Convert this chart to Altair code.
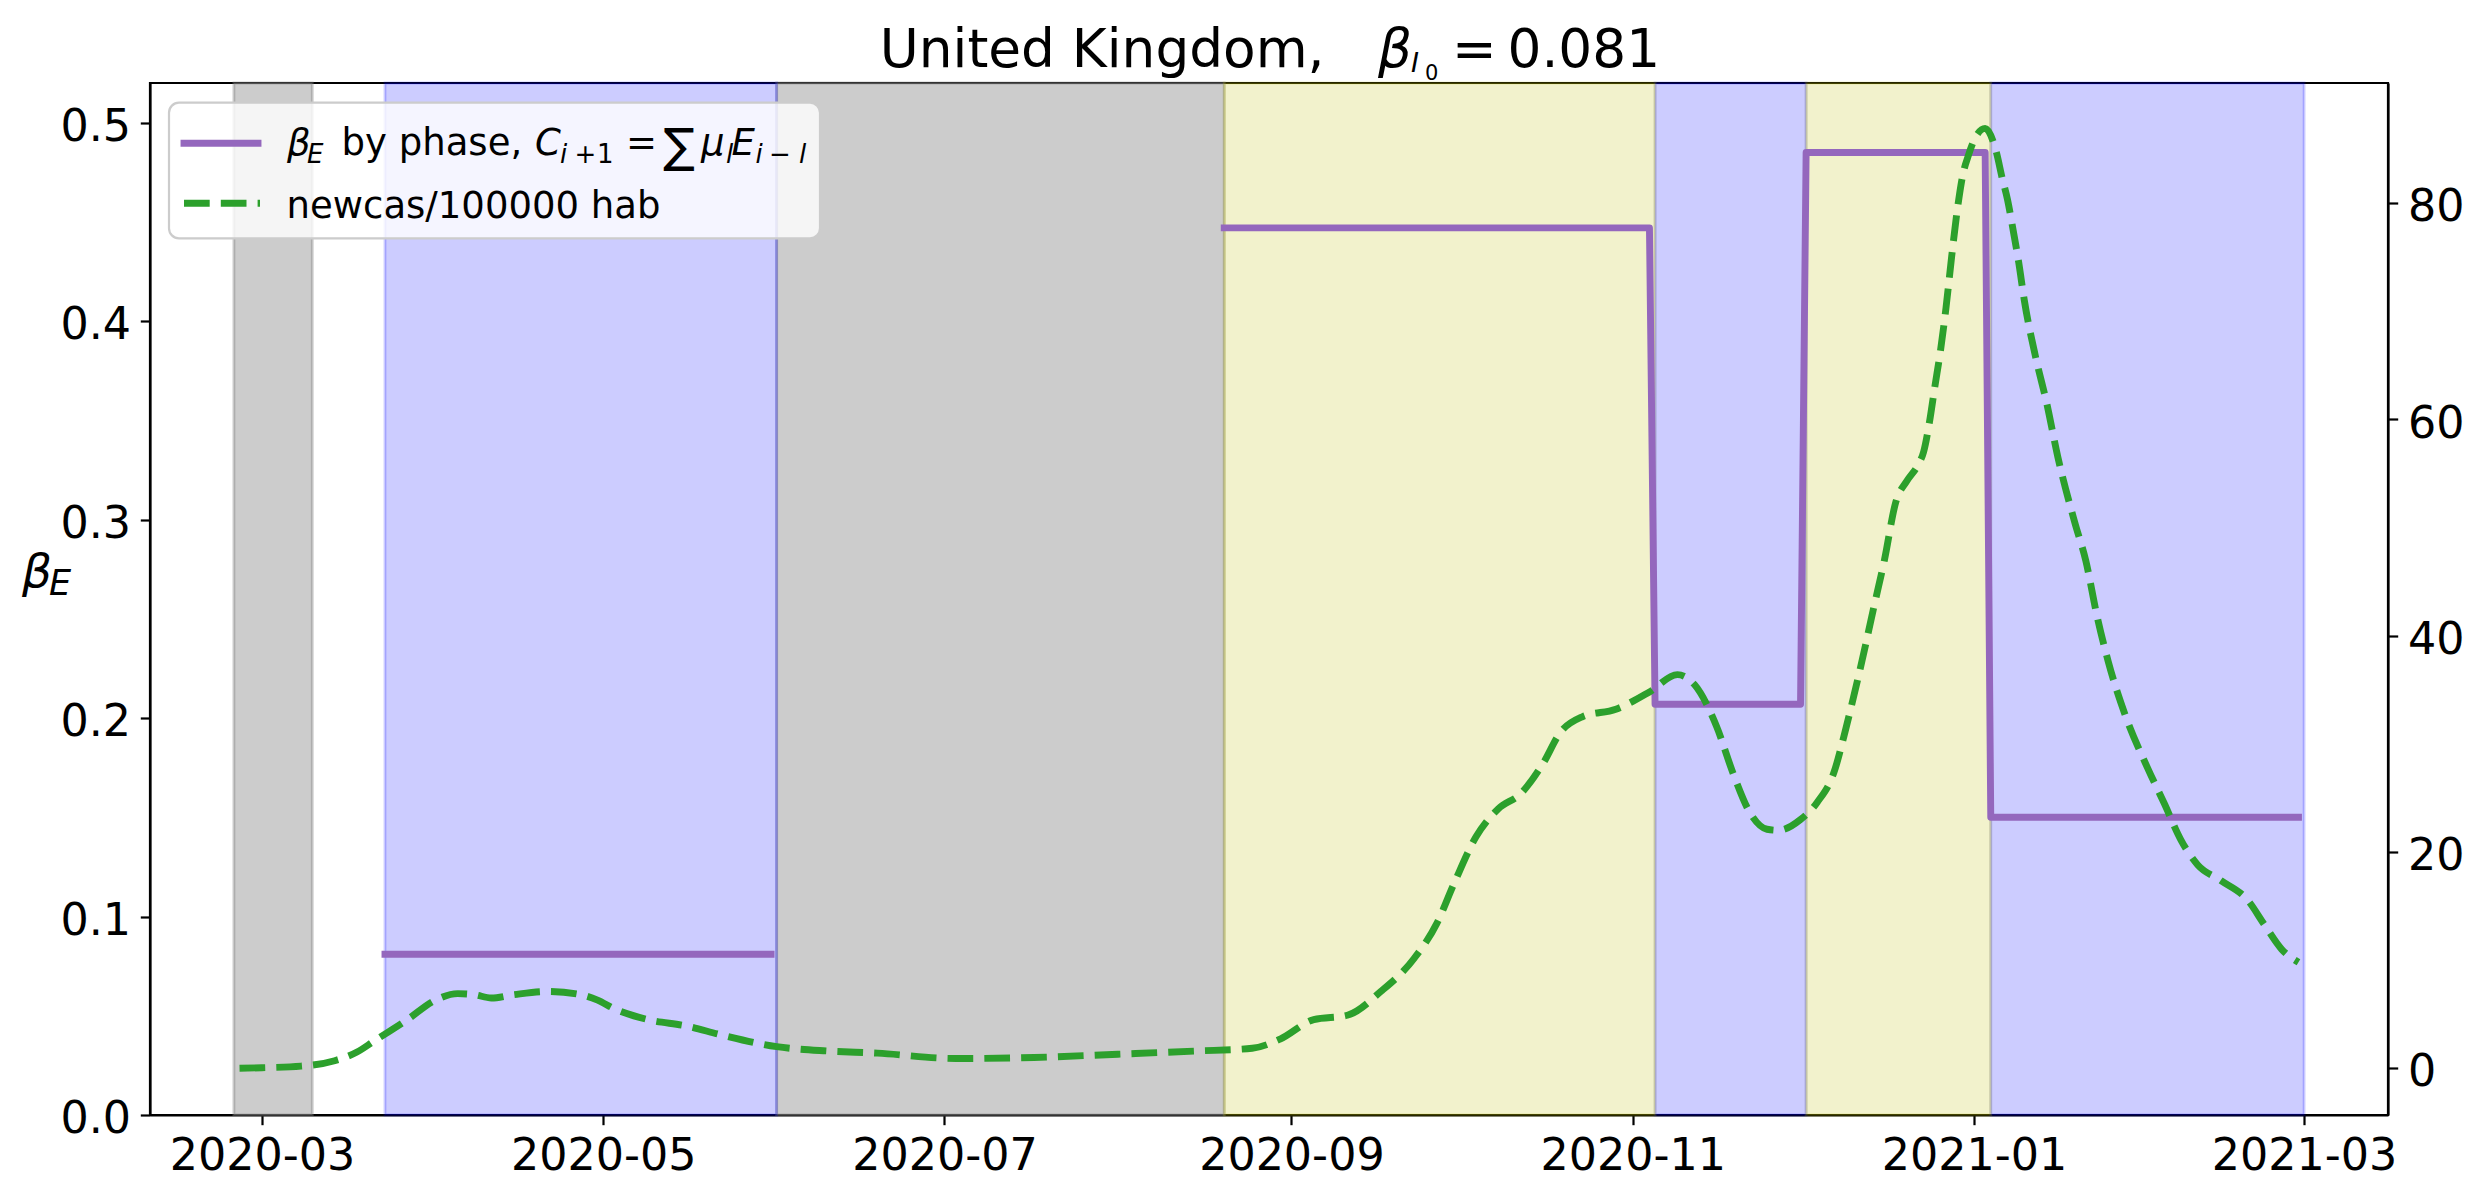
import altair as alt
import pandas as pd

# ---------------- data ----------------
span_start = ["2020-02-25", "2020-03-23", "2020-06-01", "2020-08-20", "2020-11-05", "2020-12-02", "2021-01-04"]
span_end = ["2020-03-10", "2020-06-01", "2020-08-20", "2020-11-05", "2020-12-02", "2021-01-04", "2021-03-01"]
span_kind = ["gray", "blue", "gray", "yellow", "blue", "yellow", "blue"]

phase_start = ["2020-03-23", "2020-08-20", "2020-11-05", "2020-12-02", "2021-01-04"]
phase_end = ["2020-05-31", "2020-11-04", "2020-12-01", "2021-01-03", "2021-02-28"]
phase_beta = [0.081, 0.447, 0.207, 0.485, 0.150]
phase_group = [1, 2, 2, 2, 2]

case_dates = [
    "2020-02-26", "2020-03-01", "2020-03-08", "2020-03-14", "2020-03-18", "2020-03-21",
    "2020-03-27", "2020-04-01", "2020-04-05", "2020-04-08", "2020-04-11", "2020-04-15",
    "2020-04-21", "2020-04-27", "2020-04-30", "2020-05-03", "2020-05-09", "2020-05-16",
    "2020-05-22", "2020-06-01", "2020-06-10", "2020-06-19", "2020-07-03", "2020-07-17",
    "2020-08-01", "2020-08-15", "2020-08-25", "2020-08-30", "2020-09-05", "2020-09-11",
    "2020-09-17", "2020-09-23", "2020-09-27", "2020-09-30", "2020-10-04", "2020-10-08",
    "2020-10-12", "2020-10-16", "2020-10-19", "2020-10-23", "2020-10-29", "2020-11-04",
    "2020-11-09", "2020-11-12", "2020-11-16", "2020-11-19", "2020-11-22", "2020-11-25",
    "2020-11-27", "2020-12-01", "2020-12-04", "2020-12-07", "2020-12-09", "2020-12-10",
    "2020-12-12", "2020-12-14", "2020-12-16", "2020-12-18", "2020-12-20", "2020-12-22",
    "2020-12-23", "2020-12-24", "2020-12-25", "2020-12-26", "2020-12-27", "2020-12-28",
    "2020-12-29", "2020-12-30", "2020-12-31", "2021-01-01", "2021-01-03", "2021-01-05",
    "2021-01-06", "2021-01-07", "2021-01-08", "2021-01-09", "2021-01-10", "2021-01-12",
    "2021-01-14", "2021-01-16", "2021-01-19", "2021-01-21", "2021-01-23", "2021-01-25",
    "2021-01-28", "2021-02-01", "2021-02-04", "2021-02-07", "2021-02-10", "2021-02-14",
    "2021-02-19", "2021-02-22", "2021-02-25", "2021-02-28",
]
case_values = [
    0.0, 0.05, 0.2, 0.7, 1.5, 2.5,
    4.5, 6.3, 6.9, 6.8, 6.5, 6.8,
    7.1, 6.8, 6.3, 5.5, 4.5, 3.9,
    3.1, 2.0, 1.6, 1.4, 0.9, 1.0,
    1.3, 1.6, 1.85, 2.7, 4.5, 4.9,
    7.1, 10.2, 13.4, 17.0, 21.4, 24.0,
    25.4, 28.2, 31.0, 32.5, 33.2, 34.8,
    36.4, 35.5, 31.6, 27.2, 23.6, 22.1,
    22.0, 23.0, 24.6, 27.4, 31.2, 33.3,
    37.7, 42.4, 47.0, 52.3, 54.3, 55.8,
    57.0, 59.6, 63.0, 66.3, 70.3, 75.0,
    79.3, 82.6, 84.4, 85.8, 86.9, 84.7,
    82.4, 80.3, 77.5, 74.5, 71.0, 65.8,
    61.5, 56.5, 50.5, 46.9, 41.8, 37.6,
    32.7, 27.8, 24.5, 21.1, 18.8, 17.4,
    15.5, 13.2, 11.0, 9.8,
]

x_ticks = ["2020-03", "2020-05", "2020-07", "2020-09", "2020-11", "2021-01", "2021-03"]
beta_ticks = [0.0, 0.1, 0.2, 0.3, 0.4, 0.5]
case_ticks = [0, 20, 40, 60, 80]

# ---------------- tables ----------------
spans = pd.DataFrame({"start": span_start, "end": span_end, "kind": span_kind})
rows = []
for s, e, b, g in zip(phase_start, phase_end, phase_beta, phase_group):
    rows.append({"date": s, "beta": b, "seg": g})
    rows.append({"date": e, "beta": b, "seg": g})
phases = pd.DataFrame(rows)
cases = pd.DataFrame({"date": case_dates, "cases": case_values})
one = pd.DataFrame({"k": [0]})

W, H = 2238, 1032
FONT = "DejaVu Sans"
TICK_FS = 44.4


def dt(s):
    parts = s.split("-")
    d = int(parts[2]) if len(parts) == 3 else 1
    return alt.DateTime(year=int(parts[0]), month=int(parts[1]), date=d, utc=True)


def xfield(name):
    return alt.X(
        f"{name}:T",
        scale=alt.Scale(type="utc", domain=[dt("2020-02-10"), dt("2021-03-16")]),
        axis=alt.Axis(values=[dt(t) for t in x_ticks], format="%Y-%m", title=None,
                      labelPadding=9.5, labelLimit=0),
    )


span_styles = {
    "gray": ("#808080", 0.4),
    "blue": ("#0000ff", 0.2),
    "yellow": ("#bfbf00", 0.2),
}
span_layers = []
for kind, (col, a) in span_styles.items():
    span_layers.append(
        alt.Chart(spans).transform_filter(alt.datum.kind == kind).mark_rect(
            fill=col, fillOpacity=a, stroke=col, strokeOpacity=a, strokeWidth=2.8
        ).encode(
            x=xfield("start"),
            x2="end:T",
            y=alt.value(0),
            y2=alt.value(H),
        )
    )

beta_layer = alt.Chart(phases).mark_line(
    color="#9467bd", strokeWidth=6.9, strokeCap="square", strokeJoin="round"
).encode(
    x=xfield("date"),
    y=alt.Y("beta:Q", scale=alt.Scale(domain=[0, 0.52], nice=False, zero=False),
            axis=alt.Axis(orient="left", values=beta_ticks, format=".1f", title=None,
                          labelOffset=4.7)),
    detail="seg:N",
    order="date:T",
)

case_layer = alt.Chart(cases).mark_line(
    color="#2ca02c", strokeWidth=6.9, strokeDash=[25.7, 11.1], strokeCap="butt",
    interpolate="monotone",
).encode(
    x=xfield("date"),
    y=alt.Y("cases:Q", scale=alt.Scale(domain=[-4.32, 91.1], nice=False, zero=False),
            axis=alt.Axis(orient="right", values=case_ticks, format="d", title=None,
                          labelOffset=4.7)),
)


def txt(s, x, y, size, italic=False):
    return alt.Chart(one).mark_text(
        text=s, align="left", baseline="alphabetic", font=FONT, fontSize=size,
        fontStyle="italic" if italic else "normal", color="black",
    ).encode(x=alt.value(x), y=alt.value(y))


LF = 37
LS = 26
legend_box = alt.Chart(one).mark_rect(
    fill="white", fillOpacity=0.8, stroke="#cccccc", strokeWidth=2.2, cornerRadius=10
).encode(x=alt.value(19), x2=alt.value(670), y=alt.value(19.7), y2=alt.value(155.3))
legend_l1 = alt.Chart(one).mark_rule(color="#9467bd", strokeWidth=6.9, strokeCap="square").encode(
    x=alt.value(34), x2=alt.value(108), y=alt.value(60.3))
legend_l2 = alt.Chart(one).mark_rule(color="#2ca02c", strokeWidth=6.9, strokeDash=[25.7, 11.1],
                                     strokeCap="butt").encode(
    x=alt.value(34), x2=alt.value(110), y=alt.value(120.3))

texts = [
    # title
    txt("United Kingdom,", 729.8, -16.3, 53.3),
    txt("β", 1228, -16.3, 53.3, True),
    txt("I", 1261, -11, 27, True),
    txt("0", 1275, -3, 21),
    txt("=", 1302, -16.3, 53.3),
    txt("0.081", 1357.5, -16.3, 53.3),
    # y label
    txt("β", -128, 504, 47, True),
    txt("E", -101, 512, 35, True),
    # legend row 1
    txt("β", 137, 72, LF, True),
    txt("E", 157, 79.7, LS, True),
    txt("by phase,", 191.6, 72, LF),
    txt("C", 385, 72, LF, True),
    txt("i", 410, 79.7, LS, True),
    txt("+", 424.5, 79.7, LS),
    txt("1", 447, 79.7, LS),
    txt("=", 476, 72, LF),
    txt("∑", 513, 79, 47),
    txt("μ", 551, 72, LF, True),
    txt("l", 576, 79.7, LS, True),
    txt("E", 581.5, 72, LF, True),
    txt("i", 605.5, 79.7, LS, True),
    txt("−", 619, 79.7, LS),
    txt("l", 649, 79.7, LS, True),
    # legend row 2
    txt("newcas/100000 hab", 136.6, 134.7, LF),
]

chart = alt.layer(
    *span_layers, beta_layer, case_layer, legend_box, legend_l1, legend_l2, *texts
).resolve_scale(y="independent").properties(
    width=W, height=H,
    padding={"left": 142, "top": 75, "right": 96, "bottom": 76},
    autosize=alt.AutoSizeParams(type="none"),
    background="white",
).configure_view(
    stroke="black", strokeWidth=2.2
).configure_axis(
    labelFont=FONT, labelFontSize=TICK_FS, labelColor="black",
    domainColor="black", domainWidth=2.2, tickColor="black", tickWidth=2.2,
    tickSize=9.7, labelPadding=9.7, grid=False, labelFlush=False, labelOverlap=False,
    labelLimit=0,
).configure_text(font=FONT)

chart.save("out.html", embed_options={"renderer": "svg", "actions": False})
